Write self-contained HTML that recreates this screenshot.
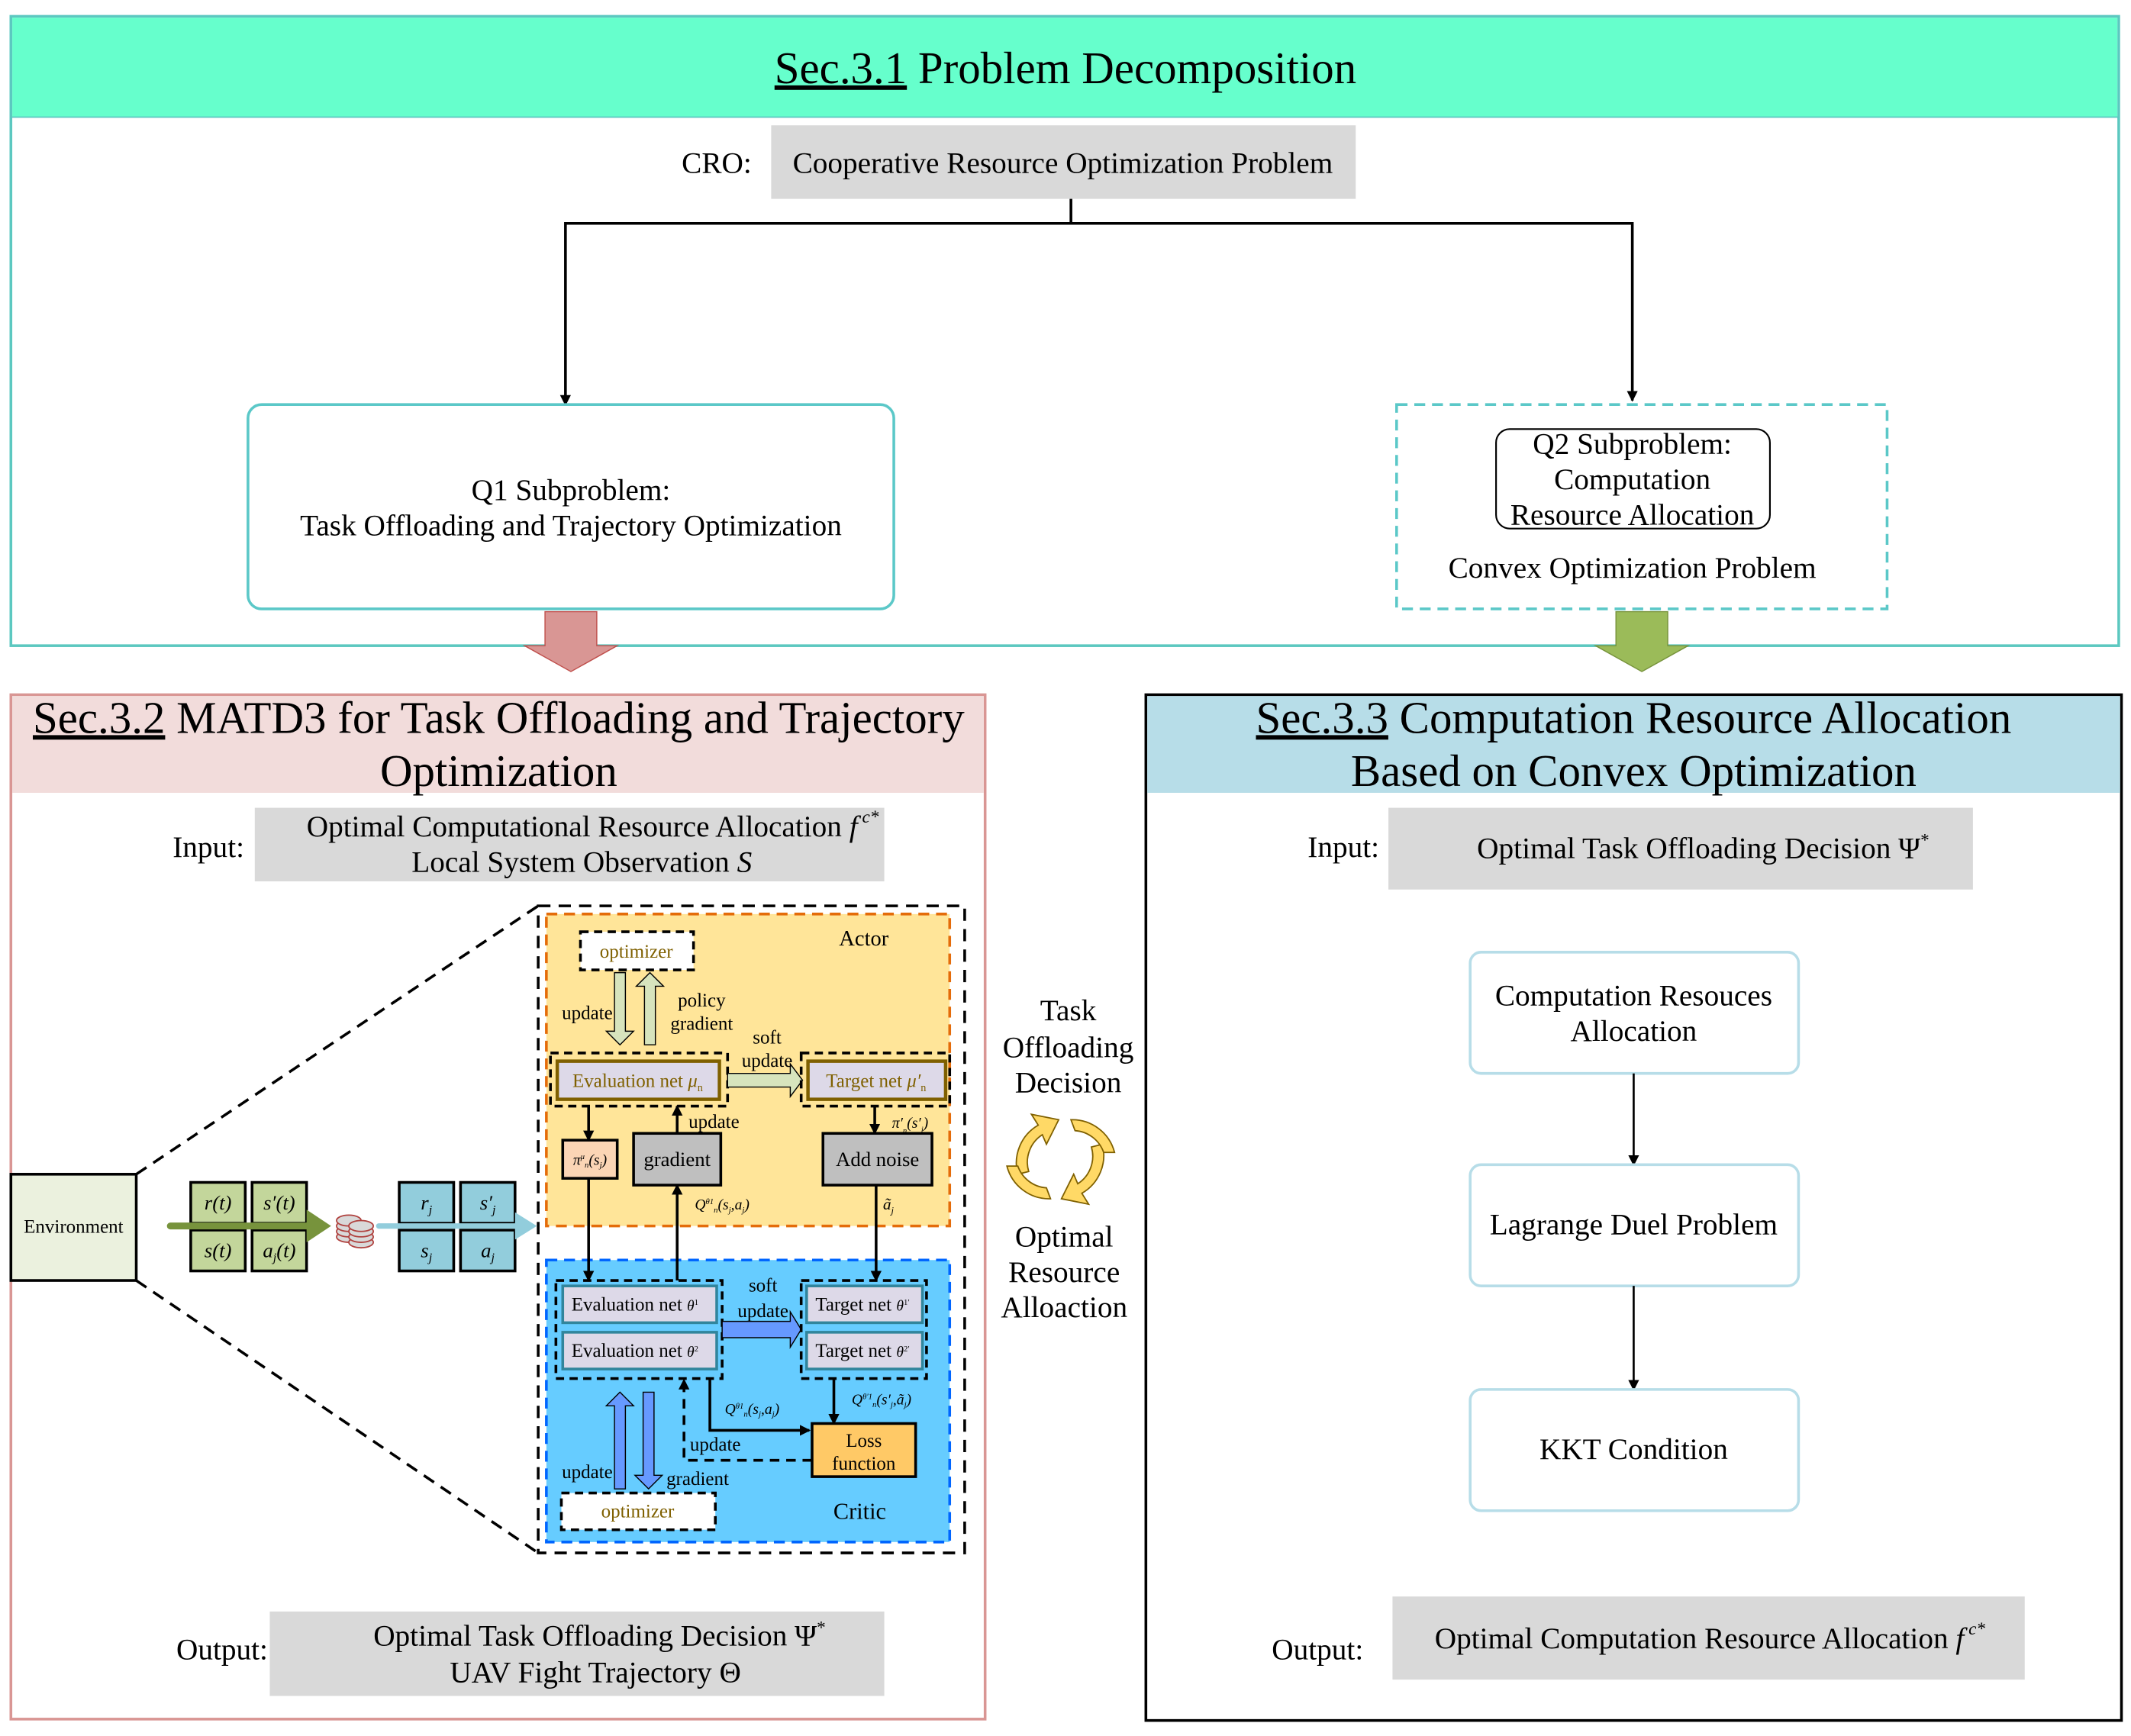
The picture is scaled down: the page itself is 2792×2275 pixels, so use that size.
<!DOCTYPE html>
<html><head><meta charset="utf-8"><style>html,body{margin:0;padding:0;background:#fff}svg{display:block}</style></head><body>
<svg width="2792" height="2275" viewBox="0 0 1564 1274.4" preserveAspectRatio="none" xmlns="http://www.w3.org/2000/svg" font-family="Liberation Serif, serif">
<defs>
<marker id="ah" markerWidth="8" markerHeight="8" refX="7" refY="4" orient="auto" markerUnits="userSpaceOnUse"><path d="M0,0 L8,4 L0,8 z" fill="#000"/></marker>
</defs>
<!-- Sec 3.1 -->
<rect x="8" y="12" width="1547" height="462" fill="#fff" stroke="#5cc8c0" stroke-width="2"/>
<rect x="9" y="13" width="1545" height="73" fill="#66ffcc"/>
<line x1="8" y1="86" x2="1555" y2="86" stroke="#5cc8c0" stroke-width="1"/>
<text x="782" y="61" font-size="33" text-anchor="middle"><tspan text-decoration="underline">Sec.3.1</tspan> Problem Decomposition</text>
<text x="526" y="127" font-size="22" text-anchor="middle">CRO:</text>
<rect x="566" y="92" width="429" height="54" fill="#d9d9d9"/>
<text x="780" y="127" font-size="22" text-anchor="middle">Cooperative Resource Optimization Problem</text>
<polyline points="786,146 786,164 415,164 415,297" fill="none" stroke="#000" stroke-width="2" marker-end="url(#ah)"/>
<polyline points="786,164 1198,164 1198,294" fill="none" stroke="#000" stroke-width="2" marker-end="url(#ah)"/>
<rect x="182" y="297" width="474" height="150" rx="10" fill="#fff" stroke="#5bc8c8" stroke-width="2"/>
<text x="419" y="367" font-size="22" text-anchor="middle">Q1 Subproblem:</text>
<text x="419" y="393" font-size="22" text-anchor="middle">Task Offloading and Trajectory Optimization</text>
<rect x="1025" y="297" width="360" height="150" fill="#fff" stroke="#5bc8c8" stroke-width="2" stroke-dasharray="8,5"/>
<rect x="1098" y="315" width="201" height="73" rx="10" fill="#fff" stroke="#000" stroke-width="1.2"/>
<text x="1198" y="333" font-size="22" text-anchor="middle">Q2 Subproblem:</text>
<text x="1198" y="359" font-size="22" text-anchor="middle">Computation</text>
<text x="1198" y="385" font-size="22" text-anchor="middle">Resource Allocation</text>
<text x="1198" y="424" font-size="22" text-anchor="middle">Convex Optimization Problem</text>
<path d="M400,449 H438 V474 H453 L419,493 L385,474 H400 Z" fill="#d99694" stroke="#c0504d" stroke-width="0.8"/>
<path d="M1186,449 H1224 V474 H1239 L1205,493 L1171,474 H1186 Z" fill="#9bbb59" stroke="#77933c" stroke-width="0.8"/>
<!-- Sec 3.2 -->
<rect x="8" y="510" width="715" height="752" fill="#fff" stroke="#d99694" stroke-width="2"/>
<rect x="9" y="511" width="713" height="71" fill="#f2dcdb"/>
<text x="366" y="538" font-size="33" text-anchor="middle"><tspan text-decoration="underline">Sec.3.2</tspan> MATD3 for Task Offloading and Trajectory</text>
<text x="366" y="577" font-size="33" text-anchor="middle">Optimization</text>
<text x="153" y="629" font-size="22" text-anchor="middle">Input:</text>
<rect x="187" y="593" width="462" height="54" fill="#d9d9d9"/>
<text x="435" y="614" font-size="22" text-anchor="middle">Optimal Computational Resource Allocation <tspan font-style="italic">f</tspan><tspan font-size="13" dy="-10" font-style="italic"> c*</tspan></text>
<text x="427" y="640" font-size="22" text-anchor="middle">Local System Observation <tspan font-style="italic">S</tspan></text>
<!-- diagram -->
<line x1="100" y1="862" x2="395" y2="665" stroke="#000" stroke-width="2" stroke-dasharray="9,6"/>
<line x1="100" y1="940" x2="395" y2="1140" stroke="#000" stroke-width="2" stroke-dasharray="9,6"/>
<rect x="395" y="665" width="313" height="475" fill="#fff" stroke="#000" stroke-width="2" stroke-dasharray="9,6"/>
<rect x="8" y="862" width="92" height="78" fill="#ebf1de" stroke="#000" stroke-width="2"/>
<text x="54" y="905" font-size="14" text-anchor="middle">Environment</text>
<g stroke="#000" stroke-width="2" fill="#c3d69b">
<rect x="140" y="868" width="40" height="30"/><rect x="185" y="868" width="40" height="30"/>
<rect x="140" y="903" width="40" height="30"/><rect x="185" y="903" width="40" height="30"/>
</g>
<line x1="125" y1="900" x2="228" y2="900" stroke="#77933c" stroke-width="5" stroke-linecap="round"/>
<path d="M225,888 L243,900 L225,912 Z" fill="#77933c"/>
<g font-size="15" font-style="italic" text-anchor="middle">
<text x="160" y="888">r(t)</text><text x="205" y="888">s′(t)</text>
<text x="160" y="923">s(t)</text><text x="205" y="923">a<tspan font-size="9" dy="3">j</tspan><tspan dy="-3">(t)</tspan></text>
</g>
<g stroke="#b0413e" stroke-width="1" fill="#d9d9d9">
<ellipse cx="256" cy="908" rx="9" ry="4"/><ellipse cx="256" cy="904" rx="9" ry="4"/><ellipse cx="256" cy="900" rx="9" ry="4"/><ellipse cx="256" cy="896" rx="9" ry="4"/>
<ellipse cx="265" cy="912" rx="9" ry="4"/><ellipse cx="265" cy="908" rx="9" ry="4"/><ellipse cx="265" cy="904" rx="9" ry="4"/><ellipse cx="265" cy="900" rx="9" ry="4"/>
</g>
<g stroke="#000" stroke-width="2" fill="#92cddc">
<rect x="293" y="868" width="40" height="30"/><rect x="338" y="868" width="40" height="30"/>
<rect x="293" y="903" width="40" height="30"/><rect x="338" y="903" width="40" height="30"/>
</g>
<line x1="278" y1="900" x2="380" y2="900" stroke="#92cddc" stroke-width="4" stroke-linecap="round"/>
<path d="M378,890 L394,900 L378,910 Z" fill="#92cddc"/>
<g font-size="15" font-style="italic" text-anchor="middle">
<text x="313" y="888">r<tspan font-size="9" dy="3">j</tspan></text><text x="358" y="888">s′<tspan font-size="9" dy="3">j</tspan></text>
<text x="313" y="923">s<tspan font-size="9" dy="3">j</tspan></text><text x="358" y="923">a<tspan font-size="9" dy="3">j</tspan></text>
</g>
<!-- Actor -->
<rect x="401" y="671" width="296" height="229" fill="#ffe599" stroke="#e46c0a" stroke-width="2" stroke-dasharray="8,5"/>
<rect x="426" y="684" width="83" height="28" fill="#fff" stroke="#000" stroke-width="2" stroke-dasharray="6,4"/>
<text x="467" y="703" font-size="14" text-anchor="middle" fill="#7f6000">optimizer</text>
<text x="634" y="694" font-size="16" text-anchor="middle">Actor</text>
<path d="M451,714 H459 V757 H465 L455,767 L445,757 H451 Z" fill="#d7e4bd" stroke="#000" stroke-width="0.8"/>
<path d="M473,767 H481 V724 H487 L477,714 L467,724 H473 Z" fill="#d7e4bd" stroke="#000" stroke-width="0.8"/>
<text x="431" y="748" font-size="14" text-anchor="middle">update</text>
<text x="515" y="739" font-size="14" text-anchor="middle">policy</text>
<text x="515" y="756" font-size="14" text-anchor="middle">gradient</text>
<rect x="404" y="773" width="130" height="39" fill="none" stroke="#000" stroke-width="2" stroke-dasharray="6,4"/>
<rect x="409" y="779" width="119" height="28" fill="#ddd9e8" stroke="#7f6000" stroke-width="2.5"/>
<text x="468" y="798" font-size="14" text-anchor="middle" fill="#7f6000">Evaluation net <tspan font-style="italic">μ</tspan><tspan font-size="8" dy="3">n</tspan></text>
<path d="M534,788 H580 V781 L589,793 L580,805 V798 H534 Z" fill="#d7e4bd" stroke="#000" stroke-width="0.8"/>
<text x="563" y="766" font-size="14" text-anchor="middle">soft</text>
<text x="563" y="783" font-size="14" text-anchor="middle">update</text>
<rect x="588" y="773" width="109" height="39" fill="none" stroke="#000" stroke-width="2" stroke-dasharray="6,4"/>
<rect x="593" y="779" width="101" height="28" fill="#ddd9e8" stroke="#7f6000" stroke-width="2.5"/>
<text x="643" y="798" font-size="14" text-anchor="middle" fill="#7f6000">Target net <tspan font-style="italic">μ′</tspan><tspan font-size="8" dy="3">n</tspan></text>
<rect x="413" y="837" width="40" height="28" fill="#fbd5b5" stroke="#000" stroke-width="2"/>
<text x="433" y="855" font-size="11" font-style="italic" text-anchor="middle">π<tspan font-size="6" dy="-4">μ</tspan><tspan font-size="6" dy="6">n</tspan><tspan dy="-2">(s</tspan><tspan font-size="6" dy="2">j</tspan><tspan dy="-2">)</tspan></text>
<rect x="465" y="832" width="64" height="38" fill="#bfbfbf" stroke="#000" stroke-width="2"/>
<text x="497" y="856" font-size="15" text-anchor="middle">gradient</text>
<rect x="604" y="832" width="80" height="38" fill="#bfbfbf" stroke="#000" stroke-width="2"/>
<text x="644" y="856" font-size="15" text-anchor="middle">Add noise</text>
<line x1="432" y1="812" x2="432" y2="837" stroke="#000" stroke-width="2" marker-end="url(#ah)"/>
<line x1="497" y1="832" x2="497" y2="812" stroke="#000" stroke-width="2" marker-end="url(#ah)"/>
<text x="524" y="828" font-size="14" text-anchor="middle">update</text>
<line x1="642" y1="812" x2="642" y2="832" stroke="#000" stroke-width="2" marker-end="url(#ah)"/>
<text x="668" y="828" font-size="11" font-style="italic" text-anchor="middle">π′<tspan font-size="6" dy="4">n</tspan><tspan dy="-4">(s′</tspan><tspan font-size="6" dy="3">j</tspan><tspan dy="-3">)</tspan></text>
<text x="530" y="888" font-size="11" font-style="italic" text-anchor="middle">Q<tspan font-size="6" dy="-4">θ1</tspan><tspan font-size="6" dy="6">n</tspan><tspan dy="-2">(s</tspan><tspan font-size="6" dy="2">j</tspan><tspan dy="-2">,a</tspan><tspan font-size="6" dy="2">j</tspan><tspan dy="-2">)</tspan></text>
<text x="652" y="888" font-size="12" font-style="italic" text-anchor="middle">ã<tspan font-size="7" dy="3">j</tspan></text>
<!-- Critic -->
<rect x="401" y="925" width="296" height="207" fill="#66ccff" stroke="#0066ff" stroke-width="2" stroke-dasharray="8,5"/>
<line x1="432" y1="865" x2="432" y2="940" stroke="#000" stroke-width="2" marker-end="url(#ah)"/>
<line x1="497" y1="940" x2="497" y2="870" stroke="#000" stroke-width="2" marker-end="url(#ah)"/>
<line x1="643" y1="870" x2="643" y2="940" stroke="#000" stroke-width="2" marker-end="url(#ah)"/>
<rect x="408" y="940" width="122" height="72" fill="none" stroke="#000" stroke-width="2" stroke-dasharray="6,4"/>
<rect x="413" y="944" width="113" height="27" fill="#ddd9e8" stroke="#31859c" stroke-width="2"/>
<rect x="413" y="978" width="113" height="27" fill="#ddd9e8" stroke="#31859c" stroke-width="2"/>
<text x="466" y="962" font-size="14" text-anchor="middle">Evaluation net <tspan font-style="italic" font-size="11">θ</tspan><tspan font-size="6" dy="-4">1</tspan></text>
<text x="466" y="996" font-size="14" text-anchor="middle">Evaluation net <tspan font-style="italic" font-size="11">θ</tspan><tspan font-size="6" dy="-4">2</tspan></text>
<path d="M530,970 H580 V963 L588,976 L580,989 V982 H530 Z" fill="#6699ff" stroke="#000" stroke-width="0.8"/>
<text x="560" y="948" font-size="14" text-anchor="middle">soft</text>
<text x="560" y="967" font-size="14" text-anchor="middle">update</text>
<rect x="588" y="940" width="92" height="72" fill="none" stroke="#000" stroke-width="2" stroke-dasharray="6,4"/>
<rect x="592" y="944" width="85" height="27" fill="#ddd9e8" stroke="#31859c" stroke-width="2"/>
<rect x="592" y="978" width="85" height="27" fill="#ddd9e8" stroke="#31859c" stroke-width="2"/>
<text x="633" y="962" font-size="14" text-anchor="middle">Target net <tspan font-style="italic" font-size="11">θ</tspan><tspan font-size="6" dy="-4">1′</tspan></text>
<text x="633" y="996" font-size="14" text-anchor="middle">Target net <tspan font-style="italic" font-size="11">θ</tspan><tspan font-size="6" dy="-4">2′</tspan></text>
<polyline points="521,1012 521,1050 594,1050" fill="none" stroke="#000" stroke-width="2" marker-end="url(#ah)"/>
<text x="552" y="1038" font-size="11" font-style="italic" text-anchor="middle">Q<tspan font-size="6" dy="-4">θ1</tspan><tspan font-size="6" dy="6">n</tspan><tspan dy="-2">(s</tspan><tspan font-size="6" dy="2">j</tspan><tspan dy="-2">,a</tspan><tspan font-size="6" dy="2">j</tspan><tspan dy="-2">)</tspan></text>
<line x1="612" y1="1012" x2="612" y2="1045" stroke="#000" stroke-width="2" marker-end="url(#ah)"/>
<text x="647" y="1031" font-size="11" font-style="italic" text-anchor="middle">Q<tspan font-size="6" dy="-4">θ′1</tspan><tspan font-size="6" dy="6">n</tspan><tspan dy="-2">(s′</tspan><tspan font-size="6" dy="2">j</tspan><tspan dy="-2">,ã</tspan><tspan font-size="6" dy="2">j</tspan><tspan dy="-2">)</tspan></text>
<rect x="596" y="1045" width="76" height="39" fill="#ffc966" stroke="#000" stroke-width="2"/>
<text x="634" y="1062" font-size="14" text-anchor="middle">Loss</text>
<text x="634" y="1079" font-size="14" text-anchor="middle">function</text>
<polyline points="596,1072 502,1072 502,1013" fill="none" stroke="#000" stroke-width="2" stroke-dasharray="7,5" marker-end="url(#ah)"/>
<text x="525" y="1065" font-size="14" text-anchor="middle">update</text>
<path d="M451,1093 H459 V1032 H465 L455,1022 L445,1032 H451 Z" fill="#6699ff" stroke="#000" stroke-width="0.8"/>
<path d="M472,1022 H480 V1083 H486 L476,1093 L466,1083 H472 Z" fill="#6699ff" stroke="#000" stroke-width="0.8"/>
<text x="431" y="1085" font-size="14" text-anchor="middle">update</text>
<text x="512" y="1090" font-size="14" text-anchor="middle">gradient</text>
<rect x="412" y="1096" width="113" height="27" fill="#fff" stroke="#000" stroke-width="2" stroke-dasharray="6,4"/>
<text x="468" y="1114" font-size="14" text-anchor="middle" fill="#7f6000">optimizer</text>
<text x="631" y="1115" font-size="17" text-anchor="middle">Critic</text>
<!-- output 3.2 -->
<text x="163" y="1218" font-size="22" text-anchor="middle">Output:</text>
<rect x="198" y="1183" width="451" height="62" fill="#d9d9d9"/>
<text x="440" y="1208" font-size="22" text-anchor="middle">Optimal Task Offloading Decision  Ψ<tspan font-size="13" dy="-9">*</tspan></text>
<text x="437" y="1235" font-size="22" text-anchor="middle">UAV Fight Trajectory  Θ</text>
<!-- middle -->
<g font-size="22" text-anchor="middle">
<text x="784" y="749">Task</text><text x="784" y="776">Offloading</text><text x="784" y="802">Decision</text>
<text x="781" y="915">Optimal</text><text x="781" y="941">Resource</text><text x="781" y="967">Alloaction</text>
</g>
<path d="M747,862 A32,32 0 0 1 762,826 L757,818 L777,822 L768,840 L765,833 A24,24 0 0 0 755,860 Z" fill="#ffd966" stroke="#7f6000" stroke-width="1"/>
<path d="M809,840 A32,32 0 0 1 794,876 L799,884 L779,880 L788,862 L791,869 A24,24 0 0 0 801,842 Z" fill="#ffd966" stroke="#7f6000" stroke-width="1"/>
<path d="M786,822 A32,32 0 0 1 818,846 L810,846 A24,24 0 0 0 789,830 Z" fill="#ffd966" stroke="#7f6000" stroke-width="1"/>
<path d="M771,880 A32,32 0 0 1 739,856 L747,856 A24,24 0 0 0 768,872 Z" fill="#ffd966" stroke="#7f6000" stroke-width="1"/>
<!-- Sec 3.3 -->
<rect x="841" y="510" width="716" height="753" fill="#fff" stroke="#000" stroke-width="2"/>
<rect x="842" y="511" width="714" height="71" fill="#b7dde8"/>
<text x="1199" y="538" font-size="33" text-anchor="middle"><tspan text-decoration="underline">Sec.3.3</tspan>  Computation Resource Allocation</text>
<text x="1199" y="577" font-size="33" text-anchor="middle">Based on Convex Optimization</text>
<text x="986" y="629" font-size="22" text-anchor="middle">Input:</text>
<rect x="1019" y="593" width="429" height="60" fill="#d9d9d9"/>
<text x="1250" y="630" font-size="22" text-anchor="middle">Optimal Task Offloading Decision    Ψ<tspan font-size="13" dy="-9">*</tspan></text>
<rect x="1079" y="699" width="241" height="89" rx="8" fill="#fff" stroke="#b7dde8" stroke-width="2"/>
<text x="1199" y="738" font-size="22" text-anchor="middle">Computation Resouces</text>
<text x="1199" y="764" font-size="22" text-anchor="middle">Allocation</text>
<line x1="1199" y1="788" x2="1199" y2="855" stroke="#000" stroke-width="1.5" marker-end="url(#ah)"/>
<rect x="1079" y="855" width="241" height="89" rx="8" fill="#fff" stroke="#b7dde8" stroke-width="2"/>
<text x="1199" y="906" font-size="22" text-anchor="middle">Lagrange Duel Problem</text>
<line x1="1199" y1="944" x2="1199" y2="1020" stroke="#000" stroke-width="1.5" marker-end="url(#ah)"/>
<rect x="1079" y="1020" width="241" height="89" rx="8" fill="#fff" stroke="#b7dde8" stroke-width="2"/>
<text x="1199" y="1071" font-size="22" text-anchor="middle">KKT Condition</text>
<text x="967" y="1218" font-size="22" text-anchor="middle">Output:</text>
<rect x="1022" y="1172" width="464" height="61" fill="#d9d9d9"/>
<text x="1255" y="1210" font-size="22" text-anchor="middle">Optimal  Computation Resource Allocation  <tspan font-style="italic">f</tspan><tspan font-size="13" dy="-10" font-style="italic"> c*</tspan></text>
</svg>
</body></html>
